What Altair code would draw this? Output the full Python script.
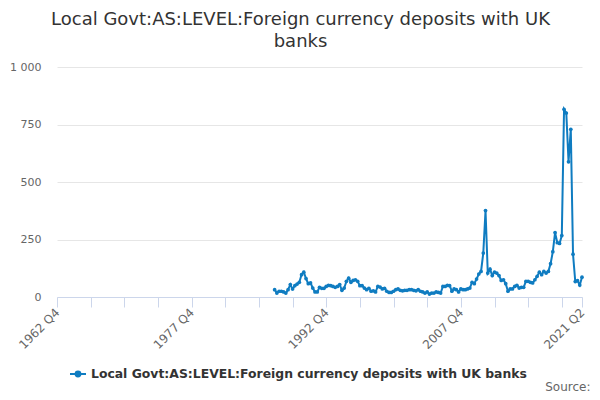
import altair as alt
import pandas as pd

TITLE = ["Local Govt:AS:LEVEL:Foreign currency deposits with UK", "banks"]
SERIES = "Local Govt:AS:LEVEL:Foreign currency deposits with UK banks"
COLOR = "#0f7cc1"

# Quarterly series from 1987 Q1 to 2021 Q2
start_year = 1987
start_quarter = 1
values = [
    32, 17, 25, 25, 22, 17, 32, 54, 35, 49,
    56, 64, 97, 108, 80, 58, 61, 39, 22, 22,
    42, 38, 38, 46, 51, 49, 46, 42, 46, 54,
    29, 39, 68, 82, 64, 72, 75, 68, 49, 49,
    39, 32, 38, 25, 27, 22, 46, 43, 35, 38,
    25, 20, 20, 25, 32, 35, 29, 27, 29, 29,
    32, 32, 29, 27, 32, 25, 22, 17, 22, 13,
    17, 17, 22, 20, 17, 46, 46, 51, 49, 25,
    35, 32, 22, 35, 32, 32, 35, 39, 64, 58,
    78, 100, 111, 191, 376, 104, 121, 93, 108, 104,
    93, 72, 75, 58, 25, 35, 35, 46, 51, 39,
    42, 42, 68, 68, 64, 61, 75, 90, 108, 97,
    111, 104, 111, 145, 197, 280, 236, 233, 267, 816,
    800, 588, 729, 186, 67, 71, 52, 86,
]

# Axis ticks (quarter offsets from 1962 Q4)
axis_start_year, axis_start_quarter = 1962, 4
tick_values = [0, 15, 30, 45, 60, 75, 90, 105, 120, 135, 150, 165, 180, 195, 210, 225, 234]
y_ticks = [0, 250, 500, 750, 1000]

rows = []
for i, v in enumerate(values):
    qi = (start_quarter - 1) + i
    year = start_year + qi // 4
    quarter = qi % 4 + 1
    idx = (year - axis_start_year) * 4 + (quarter - axis_start_quarter)
    rows.append({"idx": idx, "label": f"{year} Q{quarter}", "value": v, "series": SERIES})
df = pd.DataFrame(rows)

label_expr = (
    "(datum.value % 60 == 0 || datum.value == 234) ? "
    "(toString(1962 + floor((datum.value + 3) / 4)) + ' Q' + toString((datum.value + 3) % 4 + 1)) : ''"
)

legend_path = "M-1,0H1M-0.3,0a0.3,0.3 0 1,0 0.6,0a0.3,0.3 0 1,0 -0.6,0"

chart = alt.Chart(df).mark_line(
    point=alt.OverlayMarkDef(filled=True, size=14, color=COLOR),
    strokeWidth=2,
).encode(
    x=alt.X(
        "idx:Q",
        scale=alt.Scale(domain=[0, 234], nice=False, zero=False),
        axis=alt.Axis(
            values=tick_values,
            labelExpr=label_expr,
            labelAngle=315,
            labelAlign="right",
            labelBaseline="middle",
            labelPadding=3,
            labelFontSize=12,
            labelColor="#666666",
            labelFont="DejaVu Sans",
            labelOverlap=False,
            tickColor="#ccd6eb",
            tickSize=10,
            domainColor="#ccd6eb",
            grid=False,
            title="Source:",
            titleFont="DejaVu Sans",
            titleFontSize=12,
            titleFontWeight="normal",
            titleColor="#666666",
            titleAlign="right",
            titleBaseline="alphabetic",
            titleX=533,
            titleY=93,
        ),
    ),
    y=alt.Y(
        "value:Q",
        scale=alt.Scale(domain=[0, 1000], nice=False),
        axis=alt.Axis(
            values=y_ticks,
            labelExpr="replace(format(datum.value, ','), ',', ' ')",
            labelFontSize=11,
            labelColor="#666666",
            labelFont="DejaVu Sans",
            labelPadding=16,
            domain=False,
            ticks=False,
            gridColor="#e6e6e6",
            title=None,
        ),
    ),
    color=alt.Color(
        "series:N",
        scale=alt.Scale(domain=[SERIES], range=[COLOR]),
        legend=alt.Legend(
            title=None,
            orient="none",
            legendX=12,
            legendY=298,
            symbolType=legend_path,
            symbolSize=256,
            symbolStrokeWidth=2,
            symbolFillColor=COLOR,
            labelFont="DejaVu Sans",
            labelFontSize=12.4,
            labelFontWeight="bold",
            labelColor="#333333",
            labelLimit=600,
        ),
    ),
    tooltip=["label:N", "value:Q"],
).properties(
    width=525,
    height=230,
    title=alt.TitleParams(
        text=TITLE,
        font="DejaVu Sans",
        fontSize=18,
        fontWeight="normal",
        color="#333333",
        anchor="middle",
        dx=-19,
        offset=10,
        lineHeight=22,
    ),
    padding={"left": 49, "top": 59, "right": 10, "bottom": 96},
    autosize=alt.AutoSizeParams(type="none"),
).configure_view(
    stroke=None
)

chart.save("out.html", embed_options={"renderer": "svg", "actions": False})
